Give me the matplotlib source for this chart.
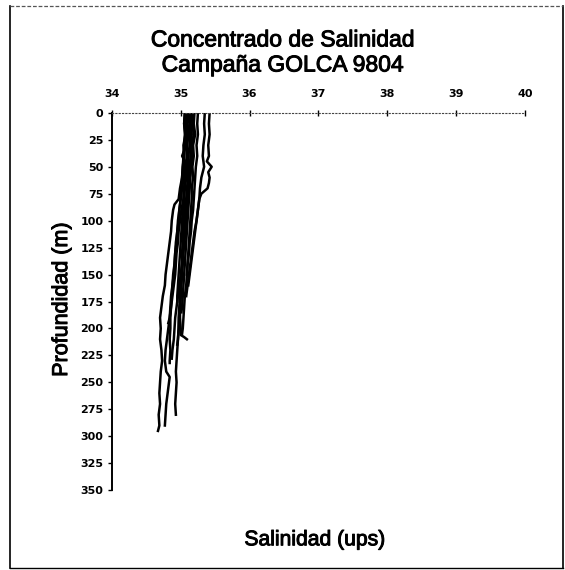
import matplotlib
matplotlib.use("Agg")
import matplotlib.pyplot as plt
import matplotlib.patheffects as pe
from matplotlib.lines import Line2D

# ── Salinity profiles (depth in m, salinity in ups), one pair per station ──
depth_01 = [0, 10, 20, 30, 40, 50, 60, 70, 80, 85, 90, 100, 110, 120, 130, 140, 150, 160,
            170, 180, 190, 200, 210, 220, 230, 240, 250, 260, 270, 280, 290, 295]
sal_01 = [35.06, 35.05, 35.07, 35.04, 35.05, 35.03, 35.02, 34.99, 34.97, 34.91, 34.89, 34.87,
          34.86, 34.84, 34.82, 34.80, 34.78, 34.77, 34.74, 34.72, 34.70, 34.71, 34.70, 34.72,
          34.73, 34.71, 34.70, 34.69, 34.70, 34.68, 34.69, 34.67]

depth_02 = [0, 10, 20, 30, 40, 50, 60, 70, 80, 90, 100, 110, 120, 130, 140, 150, 160, 170,
            180, 190, 200, 210, 220, 230, 240, 245, 250, 260, 270, 280, 290]
sal_02 = [35.12, 35.10, 35.11, 35.09, 35.10, 35.08, 35.07, 35.05, 35.04, 35.01, 34.99, 34.97,
          34.96, 34.94, 34.93, 34.92, 34.90, 34.88, 34.86, 34.84, 34.82, 34.80, 34.78, 34.77,
          34.79, 34.84, 34.83, 34.81, 34.79, 34.78, 34.77]

depth_03 = [0, 10, 20, 30, 40, 50, 60, 70, 80, 90, 100, 110, 120, 130, 140, 150, 160, 170,
            180, 190, 200, 210, 220, 230, 240, 250, 260, 270, 280]
sal_03 = [35.15, 35.14, 35.16, 35.13, 35.15, 35.12, 35.11, 35.10, 35.09, 35.08, 35.06, 35.05,
          35.04, 35.03, 35.02, 35.01, 35.00, 34.99, 34.98, 34.97, 34.97, 34.96, 34.95, 34.94,
          34.93, 34.94, 34.93, 34.92, 34.93]

depth_04 = [0, 10, 20, 30, 40, 50, 60, 70, 80, 90, 100, 110, 120, 130, 140, 150, 160, 170,
            180, 190, 200, 210, 220, 228]
sal_04 = [35.18, 35.17, 35.19, 35.16, 35.17, 35.15, 35.14, 35.13, 35.11, 35.10, 35.08, 35.07,
          35.05, 35.03, 35.02, 35.00, 34.98, 34.96, 34.94, 34.92, 34.91, 34.90, 34.88, 34.87]

depth_05 = [0, 10, 20, 30, 40, 50, 60, 70, 80, 90, 100, 110, 120, 130, 140, 150, 160, 170,
            180, 190, 200, 206, 208, 210]
sal_05 = [35.10, 35.09, 35.11, 35.08, 35.09, 35.07, 35.08, 35.06, 35.05, 35.05, 35.04, 35.03,
          35.03, 35.02, 35.02, 35.01, 35.00, 35.00, 34.99, 34.99, 35.00, 35.00, 35.05, 35.09]

depth_06 = [0, 10, 20, 30, 40, 50, 60, 70, 80, 90, 100, 110, 120, 130, 140, 150, 160, 170,
            180, 190, 195]
sal_06 = [35.08, 35.07, 35.08, 35.06, 35.05, 35.05, 35.04, 35.02, 35.00, 34.98, 34.97, 34.95,
          34.94, 34.92, 34.91, 34.89, 34.88, 34.86, 34.85, 34.84, 34.82]

depth_07 = [0, 10, 20, 30, 40, 50, 60, 70, 80, 90, 100, 110, 120, 130, 140, 150, 160, 170,
            180, 190, 200, 210, 215]
sal_07 = [35.14, 35.13, 35.12, 35.13, 35.11, 35.10, 35.11, 35.09, 35.08, 35.07, 35.06, 35.06,
          35.05, 35.04, 35.03, 35.02, 35.01, 35.00, 34.99, 34.98, 34.97, 34.96, 34.95]

depth_08 = [0, 10, 20, 30, 40, 50, 60, 70, 80, 90, 100, 110, 120, 130, 140, 150, 160, 170,
            180, 190, 200, 205]
sal_08 = [35.20, 35.19, 35.21, 35.18, 35.19, 35.17, 35.18, 35.16, 35.16, 35.15, 35.14, 35.13,
          35.12, 35.11, 35.10, 35.09, 35.08, 35.06, 35.05, 35.04, 35.03, 35.02]

depth_09 = [0, 10, 20, 30, 40, 50, 60, 70, 80, 90, 100, 110, 120, 130, 140, 150, 160, 170,
            180, 190, 200, 210, 220, 230, 232]
sal_09 = [35.06, 35.05, 35.06, 35.05, 35.04, 35.03, 35.02, 35.01, 35.00, 34.98, 34.96, 34.95,
          34.93, 34.92, 34.91, 34.90, 34.88, 34.87, 34.86, 34.85, 34.85, 34.84, 34.85, 34.84,
          34.84]

depth_10 = [0, 10, 20, 30, 40, 50, 60, 70, 80, 90, 100, 110, 120, 130, 140, 150, 160, 170,
            180, 185]
sal_10 = [35.16, 35.17, 35.15, 35.16, 35.14, 35.15, 35.13, 35.12, 35.12, 35.11, 35.10, 35.09,
          35.08, 35.07, 35.06, 35.05, 35.04, 35.03, 35.02, 35.01]

depth_11 = [0, 10, 20, 30, 40, 45, 50, 55, 60, 65, 70, 75, 80, 90, 100, 110, 120, 130, 140,
            150, 160]
sal_11 = [35.42, 35.41, 35.42, 35.40, 35.41, 35.38, 35.45, 35.40, 35.42, 35.41, 35.39, 35.30,
          35.27, 35.25, 35.23, 35.21, 35.19, 35.17, 35.15, 35.13, 35.11]

depth_12 = [0, 10, 20, 30, 40, 50, 60, 70, 80, 90, 100, 110, 120, 130, 140, 150, 160, 170]
sal_12 = [35.35, 35.34, 35.35, 35.33, 35.32, 35.34, 35.30, 35.28, 35.27, 35.25, 35.23, 35.20,
          35.18, 35.16, 35.14, 35.12, 35.10, 35.08]

depth_13 = [0, 10, 20, 30, 40, 50, 60, 70, 80, 90, 100, 110, 120, 130, 140, 150]
sal_13 = [35.25, 35.24, 35.25, 35.23, 35.24, 35.22, 35.21, 35.20, 35.19, 35.18, 35.16, 35.15,
          35.13, 35.12, 35.10, 35.09]

depth_14 = [0, 10, 20, 30, 40, 45, 50, 60, 70, 80, 90, 100, 110, 120, 130, 140, 150, 160,
            170, 175]
sal_14 = [35.08, 35.09, 35.07, 35.08, 35.02, 35.06, 35.07, 35.06, 35.05, 35.04, 35.03, 35.02,
          35.01, 35.00, 34.99, 34.98, 34.97, 34.96, 34.95, 34.95]

PROFILES = [
    (depth_01, sal_01), (depth_02, sal_02), (depth_03, sal_03), (depth_04, sal_04),
    (depth_05, sal_05), (depth_06, sal_06), (depth_07, sal_07), (depth_08, sal_08),
    (depth_09, sal_09), (depth_10, sal_10), (depth_11, sal_11), (depth_12, sal_12),
    (depth_13, sal_13), (depth_14, sal_14),
]

x_ticks = [34, 35, 36, 37, 38, 39, 40]
y_ticks = list(range(0, 351, 25))

# slightly heavier strokes on the labels
HEAVY = [pe.withStroke(linewidth=0.7, foreground="black")]

fig = plt.figure(figsize=(5.65, 5.7), dpi=100)
fig.patch.set_facecolor("white")
ax = fig.add_axes([0.198, 0.140, 0.731, 0.662])

for depth, sal in PROFILES:
    ax.plot(sal, depth, color="black", linewidth=1.8)

ax.set_xlim(34, 40)
ax.set_ylim(350, 0)
ax.xaxis.tick_top()
ax.set_xticks(x_ticks)
ax.set_yticks(y_ticks)
ax.tick_params(axis="x", direction="inout", length=4, width=1, pad=8, labelsize=8)
ax.tick_params(axis="y", direction="out", length=3, width=1, pad=3, labelsize=8)
for lbl in ax.get_xticklabels() + ax.get_yticklabels():
    lbl.set_fontweight("bold")

ax.spines["right"].set_visible(False)
ax.spines["bottom"].set_visible(False)
ax.spines["left"].set_linewidth(1.4)
ax.spines["top"].set_linestyle((0, (1, 2)))
ax.spines["top"].set_color("#444444")
ax.spines["top"].set_linewidth(0.8)

# ── Titles and axis labels ──
fig.text(0.50, 0.930, "Concentrado de Salinidad", ha="center", va="center",
         fontsize=16.5, family="Liberation Sans", path_effects=HEAVY)
fig.text(0.50, 0.886, "Campaña GOLCA 9804", ha="center", va="center",
         fontsize=16.5, family="Liberation Sans", path_effects=HEAVY)
fig.text(0.109, 0.474, "Profundidad (m)", ha="center", va="center", rotation=90,
         fontsize=15.5, family="Liberation Sans", path_effects=HEAVY)
fig.text(0.557, 0.053, "Salinidad (ups)", ha="center", va="center",
         fontsize=15.2, family="Liberation Sans", path_effects=HEAVY)

# ── Outer frame ──
x0, x1, y0, y1 = 0.018, 0.996, 0.004, 0.989
fig.lines.append(Line2D([x0, x0], [y0, y1], transform=fig.transFigure,
                        color="black", linewidth=1.2))
fig.lines.append(Line2D([x1, x1], [y0, y1], transform=fig.transFigure,
                        color="black", linewidth=1.2))
fig.lines.append(Line2D([x0, x1], [y0, y0], transform=fig.transFigure,
                        color="black", linewidth=1.0))
fig.lines.append(Line2D([x0, x1], [y1, y1], transform=fig.transFigure,
                        color="#555555", linewidth=0.9, linestyle=(0, (3, 1.5))))

fig.savefig("out.png", dpi=100, facecolor="white")
